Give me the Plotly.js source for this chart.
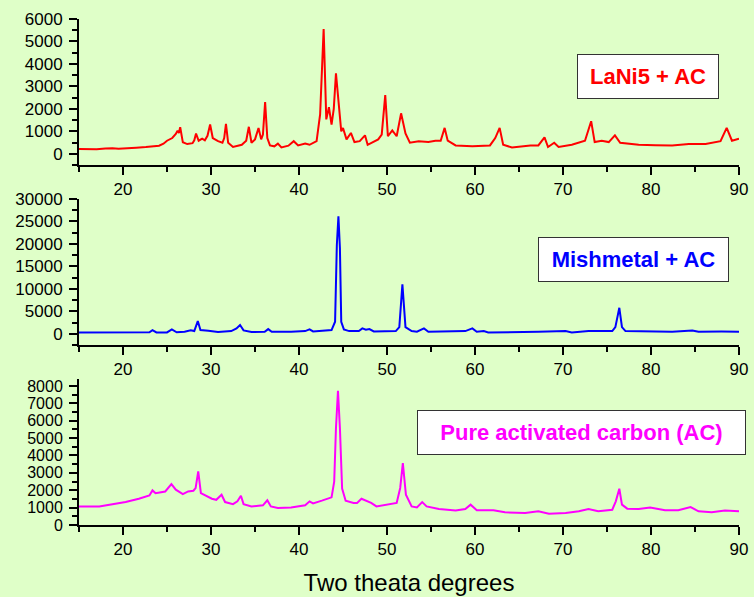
<!DOCTYPE html>
<html>
<head>
<meta charset="utf-8">
<script src="https://cdn.plot.ly/plotly-3.0.1.min.js"></script>
<style>html,body{margin:0;padding:0;background:#dfffc8;}#chart{width:754px;height:597px;}</style>
</head>
<body>
<div id="chart"></div>
<script>
// LaNi5 + AC (top)
const lani5X = [15.0,16.0,17.0,18.0,18.8,19.5,20.5,21.5,22.6,23.5,24.1,24.6,25.0,25.6,26.0,26.2,26.35,26.5,26.8,27.3,27.9,28.1,28.3,28.6,29.0,29.3,29.6,29.9,30.2,30.8,31.3,31.5,31.7,31.95,32.5,33.5,34.0,34.3,34.6,35.0,35.4,35.7,35.9,36.15,36.4,36.7,37.2,37.6,38.0,38.8,39.4,39.9,40.7,41.2,42.0,42.4,42.8,43.1,43.4,43.7,43.95,44.2,44.5,44.8,45.0,45.4,45.9,46.3,46.9,47.5,47.8,48.6,49.0,49.4,49.8,50.1,50.6,51.1,51.6,52.1,52.6,53.6,54.7,55.5,56.1,56.55,56.9,57.8,59.7,61.7,62.3,62.8,63.2,64.2,66.3,67.2,67.9,68.3,69.0,69.5,71.0,72.5,73.2,73.6,74.4,75.2,75.9,76.5,78.6,80.5,82.4,84.3,86.2,87.9,88.6,89.2,90.0];
const lani5Y = [210,190,200,230,250,220,230,270,300,320,360,450,580,700,880,1030,920,1180,510,430,470,600,900,580,670,600,800,1300,700,560,490,700,1330,490,300,400,580,1200,490,640,1150,640,850,2300,700,370,330,450,280,360,560,370,450,400,560,1750,5550,1530,2070,1300,2000,3580,2350,1000,1150,640,925,520,560,820,400,580,640,850,2610,780,1040,780,1800,900,490,560,520,580,580,1150,580,370,330,370,700,1150,400,280,370,370,730,300,490,300,400,580,1450,520,580,520,820,490,400,380,370,430,430,560,1150,580,670];

// Mishmetal + AC (middle)
const mishX = [15.0,18.0,20.5,22.5,23.0,23.35,23.8,25.0,25.55,26.1,27.0,27.7,28.1,28.5,28.8,29.7,30.8,32.3,32.9,33.3,33.7,34.6,36.1,36.5,36.9,39.1,40.7,41.2,41.6,43.7,44.1,44.3,44.48,44.65,44.8,45.1,45.7,46.8,47.2,47.6,48.0,48.5,51.0,51.4,51.75,52.1,52.5,52.8,53.4,54.2,54.7,57.8,58.9,59.7,60.2,61.0,61.5,67.2,70.3,71.0,72.9,75.6,75.95,76.4,76.7,77.1,80.1,82.4,84.7,85.4,88.0,90.0];
const mishY = [300,320,300,330,350,820,300,300,970,320,450,800,600,2830,820,670,380,600,1190,1940,750,380,450,1040,450,450,600,970,520,820,2680,19750,26140,19000,2680,970,600,600,1190,900,1040,520,600,1490,11000,1490,1040,600,450,1190,450,450,600,1190,450,600,300,450,600,300,600,600,1490,5790,1490,600,600,450,750,450,480,450];

// Pure activated carbon (bottom)
const acX = [15.0,17.3,18.8,20.3,21.8,23.0,23.35,23.7,24.8,25.5,26.0,26.3,26.8,27.4,28.0,28.25,28.55,28.85,29.5,30.1,30.6,31.2,31.6,32.5,33.0,33.4,33.7,34.6,35.9,36.4,36.8,37.6,39.1,40.7,41.2,41.6,42.6,43.7,44.0,44.2,44.43,44.65,44.9,45.3,46.2,46.6,47.1,47.7,48.2,48.8,49.9,51.1,51.5,51.8,52.15,52.8,53.4,54.0,54.5,55.9,57.8,58.9,59.5,60.2,61.2,62.1,63.4,65.7,67.2,68.4,70.3,71.8,72.9,74.0,75.6,76.0,76.4,76.7,77.3,78.6,79.9,81.6,83.1,84.5,85.4,86.9,88.4,90.0];
const acY = [1070,1070,1200,1320,1510,1700,1990,1830,1930,2355,2030,1930,1780,1930,1970,2120,3080,1830,1640,1510,1450,1740,1320,1200,1360,1680,1200,1070,1130,1420,1070,980,1010,1130,1360,1240,1400,1590,2490,5570,7715,5570,2100,1400,1270,1270,1510,1360,1270,1070,1170,1270,2130,3560,1740,1070,1010,1320,1070,920,830,920,1170,850,850,850,730,690,790,650,690,790,920,790,880,1360,2085,1170,940,920,1010,850,850,1030,790,730,830,790];

const xTickVals = [20,30,40,50,60,70,80,90];
const labels = ["LaNi5 + AC", "Mishmetal + AC", "Pure activated carbon (AC)"];
const xTitle = "Two theata degrees";

const bg = '#dfffc8';
const fontFam = 'Liberation Sans, Arial, sans-serif';

function xAxis(anchor, extra) {
  return Object.assign({
    anchor: anchor, domain: [0, 1], range: [15, 90],
    tickmode: 'array', tickvals: xTickVals, ticktext: xTickVals.map(String),
    ticks: 'outside', ticklen: 8, tickwidth: 2, tickcolor: '#000',
    minor: {tickmode: 'linear', tick0: 15, dtick: 10, ticks: 'outside', ticklen: 5, tickwidth: 2, tickcolor: '#000'},
    showline: true, linewidth: 2, linecolor: '#000', mirror: false,
    showgrid: false, zeroline: false,
    tickfont: {family: fontFam, size: 17, color: '#000'}
  }, extra || {});
}
function yAxis(anchor, domain, range, dtick, fs) {
  return {
    anchor: anchor, domain: domain, range: range,
    tickmode: 'linear', tick0: 0, dtick: dtick, tickformat: 'd',
    ticks: 'outside', ticklen: 8, tickwidth: 2, tickcolor: '#000',
    ticklabelstandoff: 3,
    minor: {tickmode: 'linear', tick0: dtick / 2, dtick: dtick, ticks: 'outside', ticklen: 5, tickwidth: 2, tickcolor: '#000'},
    showline: true, linewidth: 2, linecolor: '#000',
    showgrid: false, zeroline: false,
    tickfont: {family: fontFam, size: fs, color: '#000'}
  };
}

const traces = [
  {x: lani5X, y: lani5Y, xaxis: 'x', yaxis: 'y', type: 'scatter', mode: 'lines', line: {color: '#ff0000', width: 2}, name: labels[0]},
  {x: mishX, y: mishY, xaxis: 'x2', yaxis: 'y2', type: 'scatter', mode: 'lines', line: {color: '#0000ff', width: 2}, name: labels[1]},
  {x: acX, y: acY, xaxis: 'x3', yaxis: 'y3', type: 'scatter', mode: 'lines', line: {color: '#ff00ff', width: 2}, name: labels[2]}
];

function boxAnn(text, color, x, y, w) {
  return {
    xref: 'paper', yref: 'paper', x: x, y: y, xanchor: 'center', yanchor: 'middle',
    text: '<b>' + text + '</b>', showarrow: false,
    font: {family: fontFam, size: 22, color: color},
    bgcolor: '#ffffff', bordercolor: '#333333', borderwidth: 1, borderpad: 0,
    width: w, height: 43, align: 'center', valign: 'middle'
  };
}

const layout = {
  width: 754, height: 597,
  margin: {l: 79, r: 15, t: 19, b: 72},
  paper_bgcolor: bg, plot_bgcolor: bg,
  showlegend: false,
  font: {family: fontFam, color: '#000'},
  xaxis: xAxis('y'),
  xaxis2: xAxis('y2'),
  xaxis3: xAxis('y3', {title: {text: xTitle, font: {family: fontFam, size: 24, color: '#000'}, standoff: 16}}),
  yaxis: yAxis('x', [0.7115, 1], [-500, 6000], 1000, 17),
  yaxis2: yAxis('x2', [0.3557, 0.6443], [-2500, 30000], 5000, 17),
  yaxis3: yAxis('x3', [0, 0.2885], [0, 8400], 1000, 16),
  annotations: [
    boxAnn(labels[0], '#ff0000', 0.8626, 0.8854, 140),
    boxAnn(labels[1], '#0000ff', 0.8405, 0.5253, 189),
    boxAnn(labels[2], '#ff00ff', 0.761, 0.1828, 327)
  ]
};

Plotly.newPlot('chart', traces, layout, {displayModeBar: false, staticPlot: true});
</script>
</body>
</html>
